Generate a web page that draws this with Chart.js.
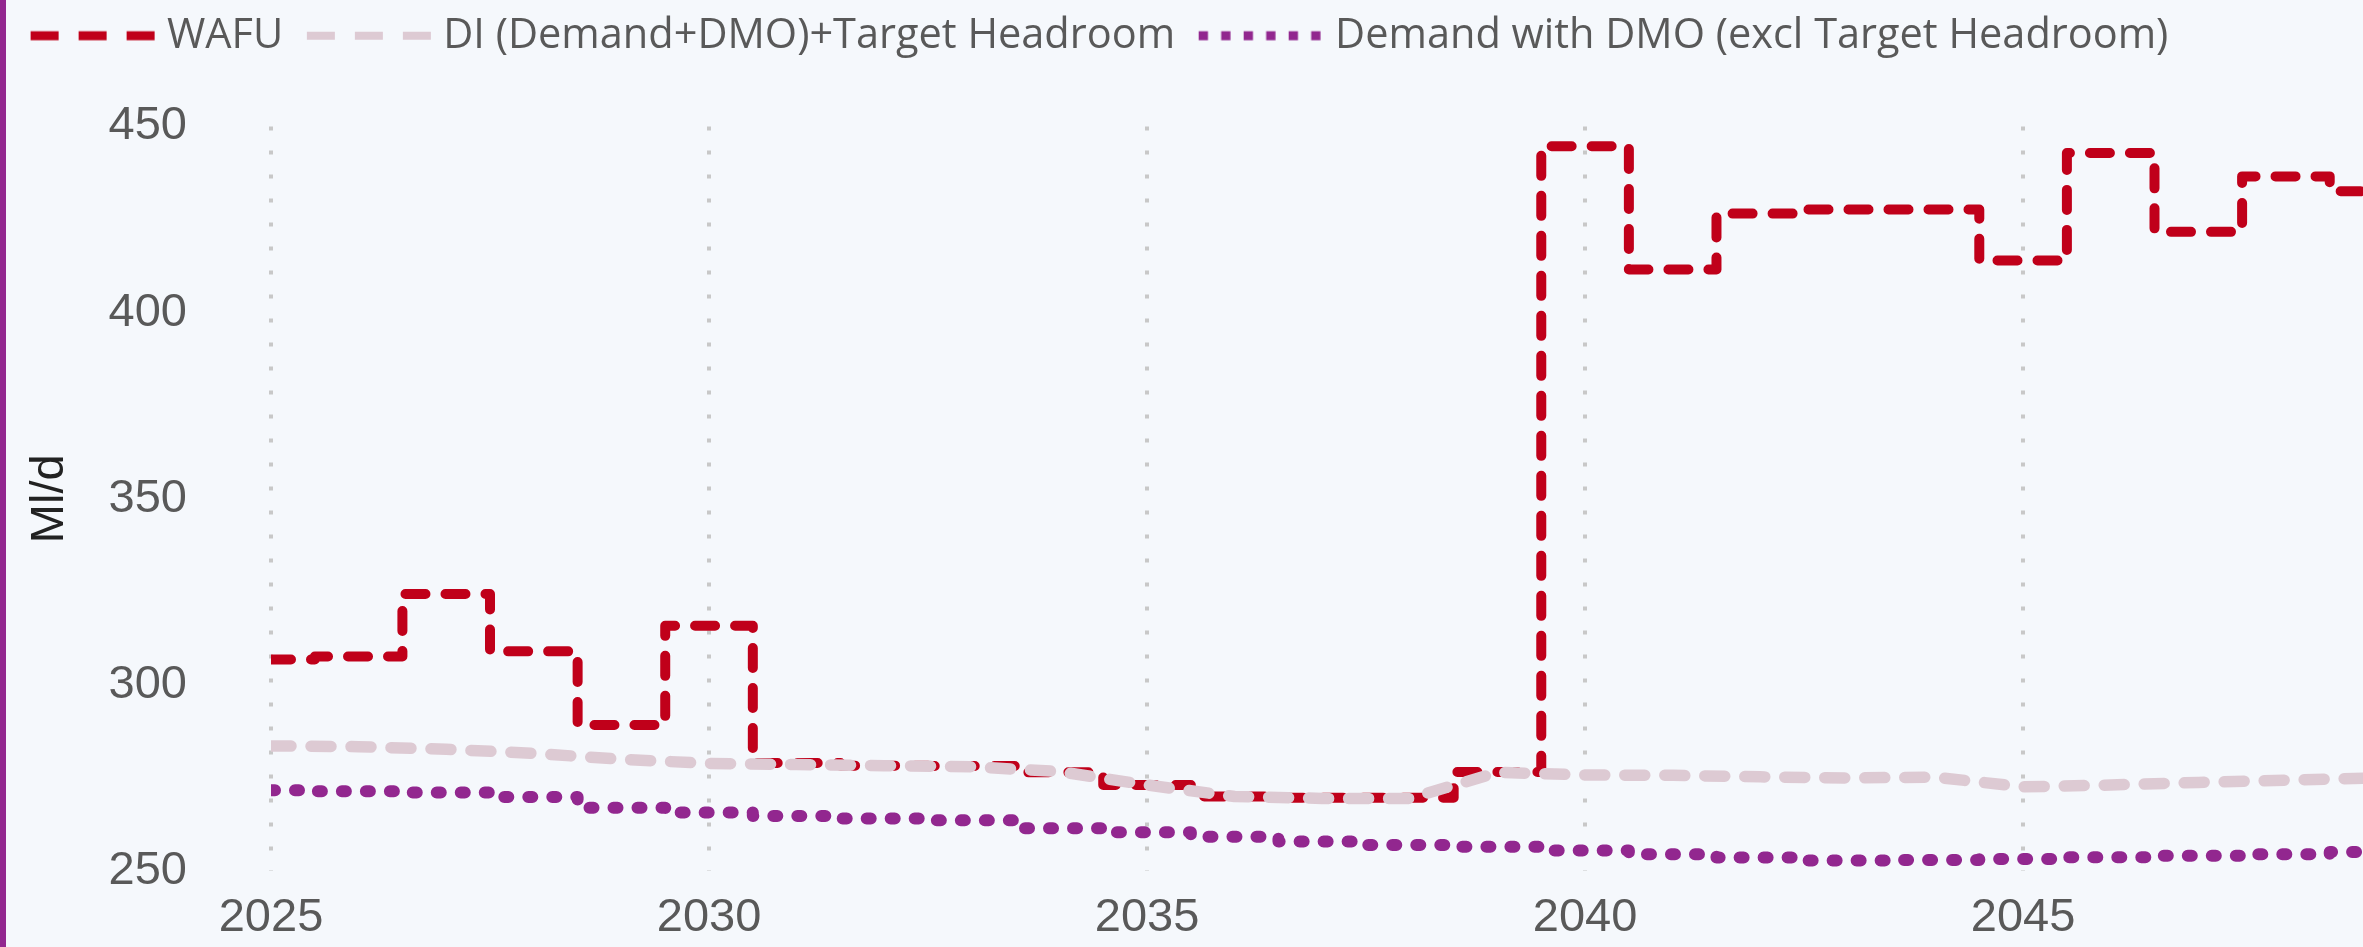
<!DOCTYPE html>
<html>
<head>
<meta charset="utf-8">
<script src="https://cdn.jsdelivr.net/npm/chart.js@4.4.1/dist/chart.umd.min.js"></script>
<style>
    html, body { margin: 0; padding: 0; background: #f5f8fc; overflow: hidden; }
    #wrap { position: relative; width: 2363px; height: 947px; }
    #wrap:before { content: ''; position: absolute; left: 0; top: 0; bottom: 0; width: 6px; background: #92278f; z-index: 2; }
    canvas { display: block; }
</style>
</head>
<body>
<div id="wrap"><canvas id="supplyChart" width="2363" height="947"></canvas></div>
<script>
var years = [2025, 2026, 2027, 2028, 2029, 2030, 2031, 2032, 2033, 2034, 2035, 2036, 2037,
             2038, 2039, 2040, 2041, 2042, 2043, 2044, 2045, 2046, 2047, 2048, 2049];
var wafu = [306.8, 307.6, 324.4, 309.0, 289.2, 315.9, 279.0, 278.3, 278.2, 276.5, 273.1, 270.0, 269.7,
            269.7, 276.6, 444.7, 411.6, 426.6, 427.7, 427.7, 414.0, 442.9, 421.7, 436.6, 432.6];
var diHeadroom = [283.6, 283.4, 282.7, 281.6, 280.0, 278.9, 278.6, 278.3, 278.0, 276.7, 273.1, 270.0, 269.5,
                  269.5, 276.5, 275.8, 275.7, 275.3, 275.0, 275.2, 272.6, 273.1, 273.8, 274.4, 275.0];
var demandDmo = [271.7, 271.4, 271.1, 269.9, 267.0, 265.7, 264.8, 264.1, 263.6, 261.5, 260.4, 259.2, 257.9,
                 257.0, 256.5, 255.5, 254.5, 253.6, 252.8, 252.95, 253.2, 253.7, 254.1, 254.5, 255.1];
var seriesLabels = ['WAFU', 'DI (Demand+DMO)+Target Headroom', 'Demand with DMO (excl Target Headroom)'];
var xTickYears = [2025, 2030, 2035, 2040, 2045];
var yTickValues = [250, 300, 350, 400, 450];

function toPoints(values) {
    return years.map(function (yr, i) { return { x: yr, y: values[i] }; });
}

// legend keys: small canvases used as pointStyle
function swatch(color, width, dash) {
    var c = document.createElement('canvas');
    c.width = 148;
    c.height = 14;
    var g = c.getContext('2d');
    g.strokeStyle = color;
    g.lineWidth = width;
    g.lineCap = 'butt';
    g.setLineDash(dash);
    g.beginPath();
    g.moveTo(23, 7);
    g.lineTo(147, 7);
    g.stroke();
    return c;
}
var swatches = [
    swatch('#c0001a', 9, [28, 20]),
    swatch('#ddcad3', 8, [28, 20]),
    swatch('#92278f', 9, [9.3, 13.2])
];

var tickFont = { family: 'Liberation Sans, Arial, sans-serif', size: 47 };
var legendSize = 41.5;

var chart = new Chart(document.getElementById('supplyChart'), {
    type: 'line',
    data: {
        datasets: [
            {
                label: seriesLabels[0],
                data: toPoints(wafu),
                borderColor: '#c0001a',
                borderWidth: 10,
                borderDash: [20, 20],
                borderCapStyle: 'round',
                borderJoinStyle: 'round',
                stepped: 'middle',
                pointRadius: 0,
                fill: false,
                order: 1
            },
            {
                label: seriesLabels[1],
                data: toPoints(diHeadroom),
                borderColor: '#ddcad3',
                borderWidth: 11.5,
                borderDash: [20, 20],
                borderCapStyle: 'round',
                borderJoinStyle: 'round',
                tension: 0,
                pointRadius: 0,
                fill: false,
                order: 0
            },
            {
                label: seriesLabels[2],
                data: toPoints(demandDmo),
                borderColor: '#92278f',
                borderWidth: 12,
                borderDash: [4, 20],
                borderCapStyle: 'round',
                borderJoinStyle: 'round',
                stepped: 'middle',
                pointRadius: 0,
                fill: false,
                order: 2
            }
        ]
    },
    options: {
        responsive: false,
        devicePixelRatio: 1,
        animation: false,
        layout: { padding: { left: 7, top: 5, right: 0, bottom: 0 } },
        plugins: {
            legend: {
                position: 'top',
                align: 'start',
                labels: {
                    usePointStyle: true,
                    pointStyleWidth: 150 - legendSize / 2,
                    padding: 10,
                    color: '#595959',
                    font: { family: 'Open Sans', size: legendSize },
                    sort: function (a, b) { return a.datasetIndex - b.datasetIndex; },
                    generateLabels: function (c) {
                        var items = Chart.defaults.plugins.legend.labels.generateLabels(c);
                        items.forEach(function (it) { it.pointStyle = swatches[it.datasetIndex]; });
                        return items;
                    }
                }
            },
            // empty title used as a gap between legend and plot
            title: { display: true, text: ' ', weight: 1, padding: { top: 50, bottom: 0 }, font: { size: 10, lineHeight: 1 } },
            tooltip: { enabled: false }
        },
        scales: {
            x: {
                type: 'linear',
                min: 2025,
                max: 2048.88,
                afterBuildTicks: function (s) { s.ticks = xTickYears.map(function (v) { return { value: v }; }); },
                afterFit: function (s) { s.height = 76; },
                ticks: {
                    color: '#595959',
                    font: tickFont,
                    padding: 19,
                    maxRotation: 0,
                    autoSkip: false,
                    callback: function (v) { return String(v); }
                },
                grid: { color: '#c8c8c8', lineWidth: 4, drawTicks: false },
                border: { display: false, dash: [4, 20] }
            },
            y: {
                min: 250,
                max: 450,
                afterBuildTicks: function (s) { s.ticks = yTickValues.map(function (v) { return { value: v }; }); },
                afterFit: function (s) { s.width = 264; },
                ticks: { color: '#595959', font: tickFont, padding: 0 },
                // hidden tick marks only set the gap between labels and plot
                grid: { display: false, drawTicks: true, tickLength: 84 },
                border: { display: false },
                title: {
                    display: true,
                    text: 'Ml/d',
                    color: '#222222',
                    font: tickFont,
                    padding: { top: 15, bottom: 0 }
                }
            }
        }
    }
});
</script>
</body>
</html>
